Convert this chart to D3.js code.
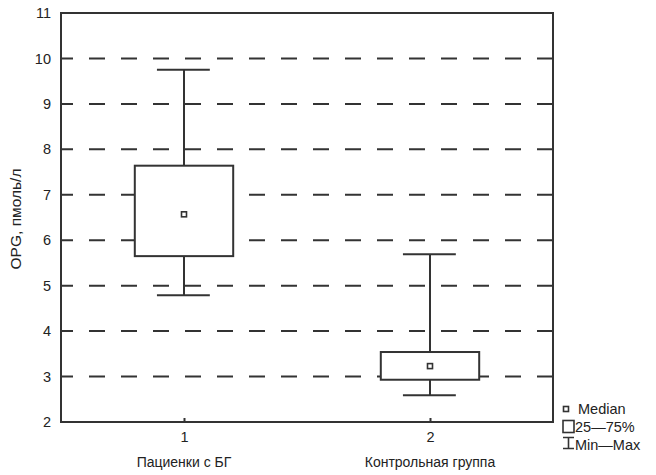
<!DOCTYPE html>
<html>
<head>
<meta charset="utf-8">
<script src="https://cdn.jsdelivr.net/npm/d3@7"></script>
<style>
  html, body { margin: 0; padding: 0; background: #fff; }
  svg { display: block; font-family: "Liberation Sans", Arial, sans-serif; }
</style>
</head>
<body>
<svg id="chart" width="656" height="475"></svg>
<script>
// Group labels and box-plot statistics (OPG, pmol/l)
const categories = ["Пациенки с БГ", "Контрольная группа"];
const tickLabels = ["1", "2"];
const mins    = [4.79, 2.59];
const q1s     = [5.65, 2.93];
const medians = [6.57, 3.23];
const q3s     = [7.64, 3.54];
const maxs    = [9.75, 5.69];
const yTicks  = [2, 3, 4, 5, 6, 7, 8, 9, 10, 11];
const gridValues = [3, 4, 5, 6, 7, 8, 9, 10];
const legendItems = ["Median", "25—75%", "Min—Max"];

const ink = "#333";
const textInk = "#222";
const svg = d3.select("#chart");

const plot = { left: 61, right: 553, top: 13, bottom: 422 };
const x = d3.scaleLinear().domain([0.5, 2.5]).range([plot.left, plot.right]);
const y = d3.scaleLinear().domain([2, 11]).range([plot.bottom, plot.top]);

// Dashed horizontal grid
svg.append("g").selectAll("line").data(gridValues).join("line")
  .attr("x1", plot.left).attr("x2", plot.right)
  .attr("y1", d => y(d)).attr("y2", d => y(d))
  .attr("stroke", ink).attr("stroke-width", 2)
  .attr("stroke-dasharray", "16,16").attr("stroke-dashoffset", 4);

// Y axis labels
const yAxis = d3.axisLeft(y).tickValues(yTicks).tickSize(0).tickPadding(10).tickFormat(d3.format("d"));
const gy = svg.append("g").attr("transform", `translate(${plot.left},0)`).call(yAxis);
gy.select(".domain").remove();
gy.selectAll("text").attr("font-size", 14.5).attr("fill", textInk)
  .attr("font-family", "Liberation Sans, Arial, sans-serif");

// X axis: group numbers with inward ticks, plus group names
const xAxis = d3.axisBottom(x).tickValues([1, 2]).tickSize(-4).tickPadding(10)
  .tickFormat((d, i) => tickLabels[i]);
const gx = svg.append("g").attr("transform", `translate(0,${plot.bottom})`).call(xAxis);
gx.select(".domain").remove();
gx.selectAll("line").attr("stroke", ink).attr("stroke-width", 2);
gx.selectAll("text").attr("font-size", 14.5).attr("fill", textInk)
  .attr("font-family", "Liberation Sans, Arial, sans-serif");

svg.append("g").selectAll("text").data(categories).join("text")
  .attr("x", (d, i) => x(i + 1)).attr("y", 467)
  .attr("text-anchor", "middle").attr("font-size", 14).attr("fill", textInk)
  .text(d => d);

// Y axis title
svg.append("text")
  .attr("transform", `translate(21,219) rotate(-90)`)
  .attr("text-anchor", "middle").attr("font-size", 15.5).attr("fill", textInk)
  .text("OPG, пмоль/л");

// Box plots
const boxW = 0.4, capW = 0.21;
const groups = categories.map((c, i) => ({ i, pos: i + 1, min: mins[i], q1: q1s[i], med: medians[i], q3: q3s[i], max: maxs[i] }));
const gb = svg.append("g").selectAll("g").data(groups).join("g");

gb.append("line")
  .attr("x1", d => x(d.pos)).attr("x2", d => x(d.pos))
  .attr("y1", d => y(d.max)).attr("y2", d => y(d.min))
  .attr("stroke", ink).attr("stroke-width", 2);
gb.selectAll(".cap").data(d => [d.min, d.max].map(v => ({ pos: d.pos, v }))).join("line")
  .attr("class", "cap")
  .attr("x1", d => x(d.pos - capW / 2 - 0.005)).attr("x2", d => x(d.pos + capW / 2))
  .attr("y1", d => y(d.v)).attr("y2", d => y(d.v))
  .attr("stroke", ink).attr("stroke-width", 2);
gb.append("rect")
  .attr("x", d => x(d.pos - boxW / 2)).attr("width", d => x(d.pos + boxW / 2) - x(d.pos - boxW / 2))
  .attr("y", d => y(d.q3)).attr("height", d => y(d.q1) - y(d.q3))
  .attr("fill", "#fff").attr("stroke", ink).attr("stroke-width", 2);
gb.append("rect")
  .attr("x", d => x(d.pos) - 2.5).attr("y", d => y(d.med) - 2.5)
  .attr("width", 5).attr("height", 5)
  .attr("fill", "#fff").attr("stroke", ink).attr("stroke-width", 1.6);

// Plot frame
svg.append("rect")
  .attr("x", plot.left).attr("y", plot.top)
  .attr("width", plot.right - plot.left).attr("height", plot.bottom - plot.top)
  .attr("fill", "none").attr("stroke", ink).attr("stroke-width", 2);

// Legend
const lg = svg.append("g");
lg.append("rect").attr("x", 563.5).attr("y", 406.5).attr("width", 5).attr("height", 5)
  .attr("fill", "#fff").attr("stroke", ink).attr("stroke-width", 1.6);
lg.append("rect").attr("x", 563).attr("y", 420.5).attr("width", 11).attr("height", 12)
  .attr("fill", "#fff").attr("stroke", ink).attr("stroke-width", 1.6);
lg.append("path").attr("d", "M563,437.5H574M568.5,437.5V448.5M563,448.5H574")
  .attr("fill", "none").attr("stroke", ink).attr("stroke-width", 1.6);
lg.selectAll("text").data(legendItems).join("text")
  .attr("x", (d, i) => i === 0 ? 578 : 575)
  .attr("y", (d, i) => [413.5, 431.5, 449.5][i])
  .attr("font-size", 14.5).attr("fill", textInk)
  .text(d => d);
</script>
</body>
</html>
